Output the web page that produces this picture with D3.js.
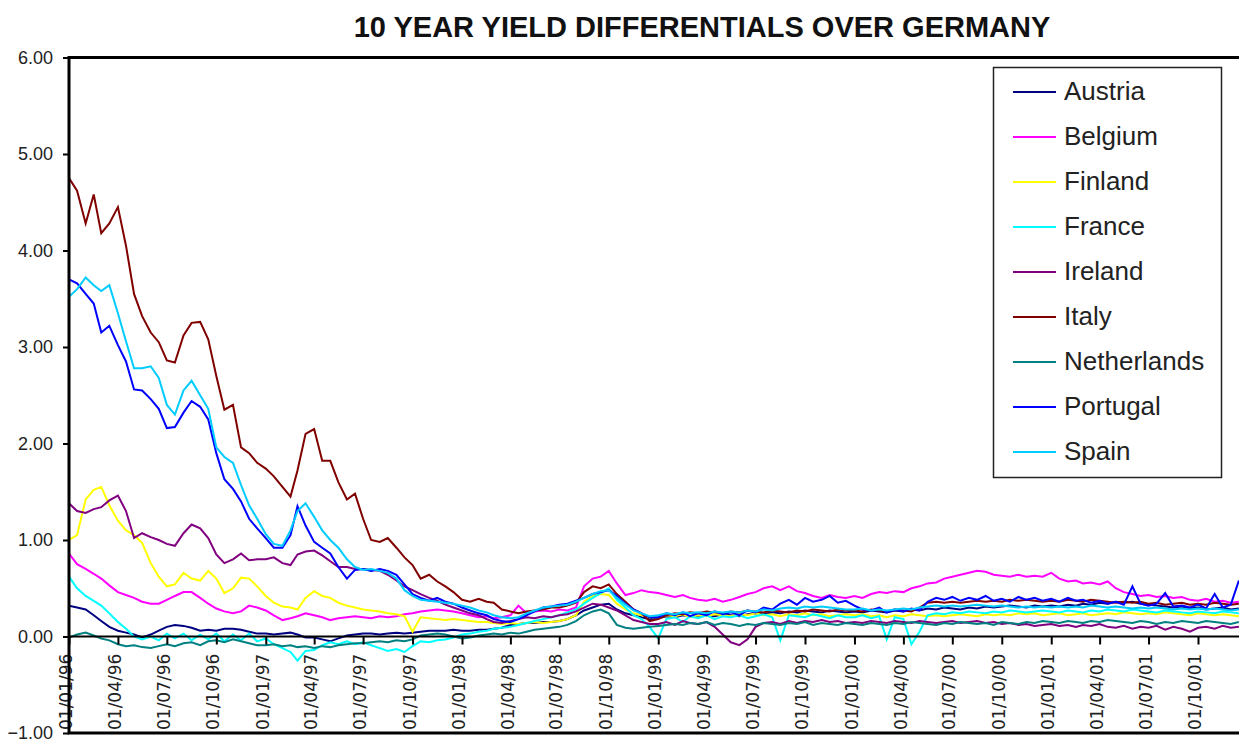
<!DOCTYPE html>
<html>
<head>
<meta charset="utf-8">
<script src="https://cdn.jsdelivr.net/npm/d3@7"></script>
<style>
  body { margin: 0; background: #fff; }
  svg { display: block; }
</style>
</head>
<body>
<div id="chart"></div>
<script>
// series names and Excel-style default colours
const countries = ["Austria", "Belgium", "Finland", "France", "Ireland", "Italy", "Netherlands", "Portugal", "Spain"];
const colors = ["#000080", "#ff00ff", "#ffff00", "#00ffff", "#800080", "#800000", "#008080", "#0000ff", "#00ccff"];

const yTicks = [-1, 0, 1, 2, 3, 4, 5, 6];
const xTickLabels = [
  "01/01/96", "01/04/96", "01/07/96", "01/10/96",
  "01/01/97", "01/04/97", "01/07/97", "01/10/97",
  "01/01/98", "01/04/98", "01/07/98", "01/10/98",
  "01/01/99", "01/04/99", "01/07/99", "01/10/99",
  "01/01/00", "01/04/00", "01/07/00", "01/10/00",
  "01/01/01", "01/04/01", "01/07/01", "01/10/01"
];

// spreads, twice a month (1st and 16th), Jan 1996 - Dec 2001, one row per year
const austria = [
  0.32, 0.30, 0.28, 0.22, 0.16, 0.10, 0.06, 0.04, 0.02, -0.01, 0.02, 0.06, 0.10, 0.12, 0.11, 0.09, 0.06, 0.07, 0.06, 0.08, 0.08, 0.07, 0.05, 0.03,
  0.03, 0.02, 0.03, 0.04, 0.02, -0.01, -0.01, -0.03, -0.05, -0.02, 0.01, 0.02, 0.03, 0.03, 0.02, 0.03, 0.04, 0.03, 0.04, 0.05, 0.06, 0.06, 0.06, 0.07,
  0.06, 0.06, 0.07, 0.07, 0.08, 0.09, 0.12, 0.13, 0.14, 0.14, 0.15, 0.15, 0.16, 0.18, 0.22, 0.27, 0.30, 0.33, 0.34, 0.28, 0.24, 0.22, 0.20, 0.18,
  0.19, 0.21, 0.20, 0.22, 0.21, 0.20, 0.22, 0.21, 0.23, 0.22, 0.21, 0.23, 0.24, 0.23, 0.25, 0.24, 0.26, 0.25, 0.27, 0.26, 0.25, 0.27, 0.26, 0.25,
  0.26, 0.25, 0.27, 0.26, 0.25, 0.27, 0.26, 0.28, 0.27, 0.29, 0.28, 0.30, 0.29, 0.28, 0.30, 0.29, 0.31, 0.30, 0.31, 0.32, 0.31, 0.30, 0.32, 0.31,
  0.32, 0.31, 0.33, 0.32, 0.34, 0.33, 0.35, 0.34, 0.36, 0.35, 0.36, 0.34, 0.33, 0.32, 0.31, 0.30, 0.31, 0.29, 0.30, 0.28, 0.29, 0.30, 0.28, 0.29
];
const belgium = [
  0.86, 0.75, 0.70, 0.65, 0.60, 0.53, 0.46, 0.43, 0.40, 0.36, 0.34, 0.34, 0.38, 0.42, 0.46, 0.46, 0.40, 0.34, 0.29, 0.26, 0.24, 0.26, 0.32, 0.30,
  0.27, 0.22, 0.17, 0.19, 0.21, 0.24, 0.22, 0.20, 0.17, 0.19, 0.20, 0.21, 0.20, 0.19, 0.21, 0.20, 0.21, 0.23, 0.24, 0.26, 0.27, 0.28, 0.27, 0.26,
  0.24, 0.22, 0.20, 0.21, 0.19, 0.20, 0.22, 0.32, 0.24, 0.26, 0.27, 0.26, 0.28, 0.27, 0.30, 0.52, 0.60, 0.62, 0.68, 0.55, 0.43, 0.45, 0.48, 0.46,
  0.45, 0.43, 0.41, 0.43, 0.40, 0.38, 0.37, 0.39, 0.36, 0.38, 0.41, 0.44, 0.46, 0.50, 0.52, 0.48, 0.52, 0.47, 0.45, 0.42, 0.40, 0.43, 0.41, 0.40,
  0.42, 0.40, 0.44, 0.46, 0.45, 0.47, 0.46, 0.50, 0.52, 0.55, 0.56, 0.60, 0.62, 0.64, 0.66, 0.68, 0.67, 0.64, 0.63, 0.62, 0.64, 0.62, 0.63, 0.62,
  0.66, 0.60, 0.57, 0.58, 0.55, 0.56, 0.54, 0.57, 0.50, 0.46, 0.44, 0.42, 0.43, 0.41, 0.42, 0.40, 0.41, 0.38, 0.37, 0.39, 0.36, 0.37, 0.35, 0.36
];
const finland = [
  1.00, 1.05, 1.42, 1.52, 1.55, 1.36, 1.20, 1.10, 1.05, 0.97, 0.76, 0.62, 0.52, 0.54, 0.66, 0.60, 0.58, 0.68, 0.60, 0.45, 0.50, 0.61, 0.60, 0.52,
  0.42, 0.35, 0.31, 0.30, 0.28, 0.40, 0.47, 0.42, 0.40, 0.35, 0.32, 0.30, 0.28, 0.27, 0.26, 0.24, 0.23, 0.21, 0.05, 0.20, 0.19, 0.18, 0.17, 0.18,
  0.17, 0.16, 0.15, 0.15, 0.14, 0.13, 0.14, 0.13, 0.14, 0.15, 0.14, 0.15, 0.16, 0.18, 0.22, 0.36, 0.42, 0.44, 0.43, 0.34, 0.28, 0.24, 0.22, 0.20,
  0.20, 0.22, 0.21, 0.23, 0.20, 0.22, 0.21, 0.23, 0.22, 0.21, 0.23, 0.22, 0.24, 0.22, 0.23, 0.21, 0.23, 0.22, 0.24, 0.22, 0.23, 0.21, 0.22, 0.23,
  0.22, 0.23, 0.21, 0.22, 0.20, 0.22, 0.21, 0.23, 0.22, 0.21, 0.22, 0.21, 0.22, 0.23, 0.22, 0.21, 0.23, 0.22, 0.23, 0.22, 0.24, 0.23, 0.24, 0.22,
  0.23, 0.24, 0.22, 0.23, 0.24, 0.22, 0.23, 0.24, 0.23, 0.25, 0.24, 0.23, 0.24, 0.23, 0.25, 0.24, 0.23, 0.22, 0.24, 0.23, 0.22, 0.23, 0.22, 0.21
];
const france = [
  0.62, 0.50, 0.42, 0.37, 0.32, 0.24, 0.15, 0.08, 0.00, -0.03, 0.00, -0.04, 0.03, -0.02, 0.03, -0.04, 0.02, -0.03, 0.03, -0.05, 0.02, -0.04, 0.03, -0.05,
  -0.02, -0.08, -0.12, -0.16, -0.25, -0.15, -0.14, -0.09, -0.06, -0.08, -0.05, -0.08, -0.06, -0.09, -0.12, -0.15, -0.13, -0.16, -0.10, -0.05, -0.06, -0.04, -0.03, -0.01,
  0.02, 0.03, 0.05, 0.06, 0.08, 0.09, 0.10, 0.12, 0.14, 0.16, 0.18, 0.20, 0.22, 0.25, 0.28, 0.34, 0.40, 0.45, 0.50, 0.38, 0.30, 0.22, 0.18, 0.10,
  -0.02, 0.18, 0.20, 0.15, 0.21, 0.19, 0.22, 0.18, 0.21, 0.20, 0.22, 0.19, 0.21, 0.23, 0.20, -0.04, 0.22, 0.21, 0.20, 0.23, 0.21, 0.19, 0.22, 0.20,
  0.20, 0.22, 0.19, 0.21, -0.03, 0.20, 0.18, -0.08, 0.05, 0.22, 0.24, 0.23, 0.25, 0.24, 0.26, 0.25, 0.24, 0.26, 0.25, 0.27, 0.26, 0.25, 0.26, 0.27,
  0.26, 0.25, 0.27, 0.26, 0.25, 0.27, 0.26, 0.28, 0.27, 0.26, 0.28, 0.27, 0.26, 0.25, 0.27, 0.26, 0.25, 0.24, 0.26, 0.25, 0.24, 0.26, 0.25, 0.24
];
const ireland = [
  1.38, 1.30, 1.28, 1.32, 1.34, 1.41, 1.46, 1.30, 1.02, 1.07, 1.03, 1.00, 0.96, 0.94, 1.07, 1.16, 1.12, 1.02, 0.85, 0.76, 0.80, 0.86, 0.79, 0.80,
  0.80, 0.82, 0.76, 0.74, 0.85, 0.88, 0.89, 0.84, 0.78, 0.72, 0.72, 0.70, 0.70, 0.69, 0.68, 0.64, 0.58, 0.52, 0.48, 0.44, 0.40, 0.37, 0.33, 0.30,
  0.27, 0.24, 0.22, 0.18, 0.15, 0.14, 0.16, 0.18, 0.20, 0.19, 0.21, 0.20, 0.22, 0.23, 0.26, 0.30, 0.34, 0.33, 0.30, 0.27, 0.22, 0.17, 0.15, 0.13,
  0.13, 0.15, 0.12, 0.16, 0.14, 0.13, 0.15, 0.10, 0.02, -0.06, -0.09, -0.03, 0.10, 0.14, 0.15, 0.13, 0.16, 0.14, 0.16, 0.15, 0.17, 0.15, 0.16, 0.14,
  0.15, 0.14, 0.16, 0.15, 0.14, 0.16, 0.15, 0.14, 0.16, 0.15, 0.14, 0.15, 0.16, 0.14, 0.15, 0.16, 0.14, 0.15, 0.13, 0.14, 0.12, 0.13, 0.11, 0.12,
  0.13, 0.11, 0.12, 0.10, 0.12, 0.11, 0.13, 0.10, 0.09, 0.11, 0.08, 0.10, 0.09, 0.11, 0.07, 0.10, 0.08, 0.05, 0.09, 0.10, 0.08, 0.11, 0.09, 0.10
];
const italy = [
  4.75, 4.62, 4.28, 4.58, 4.18, 4.28, 4.45, 4.05, 3.55, 3.32, 3.15, 3.05, 2.86, 2.84, 3.12, 3.25, 3.26, 3.08, 2.70, 2.35, 2.40, 1.96, 1.90, 1.80,
  1.74, 1.66, 1.55, 1.45, 1.72, 2.10, 2.15, 1.82, 1.82, 1.60, 1.42, 1.48, 1.22, 1.00, 0.98, 1.02, 0.92, 0.82, 0.74, 0.60, 0.64, 0.57, 0.52, 0.46,
  0.38, 0.36, 0.39, 0.36, 0.35, 0.28, 0.26, 0.24, 0.26, 0.27, 0.28, 0.30, 0.30, 0.32, 0.35, 0.46, 0.52, 0.50, 0.54, 0.44, 0.36, 0.28, 0.24, 0.16,
  0.18, 0.22, 0.24, 0.23, 0.25, 0.24, 0.26, 0.25, 0.24, 0.26, 0.25, 0.27, 0.26, 0.25, 0.27, 0.26, 0.25, 0.27, 0.26, 0.28, 0.27, 0.26, 0.28, 0.27,
  0.27, 0.26, 0.28, 0.27, 0.26, 0.28, 0.27, 0.26, 0.30, 0.35, 0.36, 0.35, 0.36, 0.35, 0.36, 0.37, 0.36, 0.37, 0.36, 0.38, 0.37, 0.38, 0.37, 0.36,
  0.37, 0.36, 0.38, 0.37, 0.36, 0.38, 0.37, 0.36, 0.35, 0.36, 0.35, 0.36, 0.34, 0.35, 0.33, 0.34, 0.35, 0.33, 0.34, 0.33, 0.35, 0.34, 0.33, 0.34
];
const netherlands = [
  -0.01, 0.02, 0.04, 0.01, -0.02, -0.04, -0.08, -0.10, -0.09, -0.11, -0.12, -0.10, -0.08, -0.10, -0.07, -0.06, -0.09, -0.05, -0.04, -0.06, -0.03, -0.05, -0.07, -0.09,
  -0.09, -0.08, -0.10, -0.09, -0.11, -0.10, -0.12, -0.10, -0.11, -0.09, -0.08, -0.07, -0.07, -0.06, -0.05, -0.06, -0.04, -0.05, -0.03, 0.01, 0.02, 0.03, 0.02, 0.00,
  -0.02, -0.01, 0.01, 0.02, 0.03, 0.02, 0.04, 0.03, 0.05, 0.07, 0.08, 0.09, 0.10, 0.12, 0.16, 0.22, 0.26, 0.28, 0.24, 0.12, 0.09, 0.08, 0.09, 0.10,
  0.11, 0.12, 0.13, 0.12, 0.14, 0.13, 0.15, 0.12, 0.14, 0.13, 0.11, 0.13, 0.12, 0.14, 0.13, 0.12, 0.14, 0.13, 0.15, 0.12, 0.14, 0.13, 0.12, 0.14,
  0.13, 0.12, 0.14, 0.13, 0.12, 0.14, 0.13, 0.15, 0.14, 0.13, 0.12, 0.14, 0.13, 0.15, 0.14, 0.13, 0.14, 0.12, 0.15, 0.14, 0.13, 0.15, 0.14, 0.16,
  0.15, 0.14, 0.16, 0.15, 0.14, 0.16, 0.15, 0.17, 0.16, 0.15, 0.14, 0.16, 0.15, 0.13, 0.15, 0.14, 0.16, 0.15, 0.14, 0.16, 0.15, 0.14, 0.13, 0.15
];
const portugal = [
  3.70, 3.66, 3.55, 3.45, 3.15, 3.22, 3.02, 2.85, 2.56, 2.55, 2.46, 2.36, 2.16, 2.17, 2.32, 2.44, 2.38, 2.25, 1.90, 1.63, 1.53, 1.40, 1.22, 1.12,
  1.02, 0.92, 0.92, 1.05, 1.35, 1.15, 0.98, 0.92, 0.86, 0.72, 0.60, 0.69, 0.70, 0.68, 0.70, 0.68, 0.64, 0.54, 0.44, 0.40, 0.37, 0.40, 0.36, 0.34,
  0.30, 0.27, 0.24, 0.22, 0.18, 0.16, 0.15, 0.18, 0.22, 0.26, 0.30, 0.31, 0.33, 0.34, 0.37, 0.40, 0.44, 0.46, 0.48, 0.42, 0.34, 0.28, 0.24, 0.20,
  0.20, 0.24, 0.22, 0.25, 0.21, 0.24, 0.22, 0.26, 0.23, 0.25, 0.22, 0.27, 0.25, 0.30, 0.28, 0.34, 0.38, 0.33, 0.40, 0.36, 0.38, 0.42, 0.35, 0.37,
  0.32, 0.28, 0.27, 0.30, 0.25, 0.28, 0.26, 0.29, 0.27, 0.36, 0.40, 0.38, 0.41, 0.37, 0.40, 0.38, 0.42, 0.37, 0.39, 0.36, 0.41, 0.38, 0.40, 0.37,
  0.39, 0.36, 0.40, 0.37, 0.38, 0.35, 0.37, 0.34, 0.36, 0.33, 0.52, 0.34, 0.32, 0.34, 0.45, 0.31, 0.32, 0.30, 0.33, 0.29, 0.44, 0.30, 0.33, 0.58
];
const spain = [
  3.52, 3.60, 3.72, 3.64, 3.58, 3.64, 3.35, 3.06, 2.78, 2.78, 2.80, 2.68, 2.40, 2.30, 2.55, 2.65, 2.50, 2.36, 1.96, 1.86, 1.80, 1.57, 1.36, 1.22,
  1.06, 0.96, 0.94, 1.10, 1.30, 1.38, 1.24, 1.10, 1.00, 0.92, 0.80, 0.72, 0.69, 0.70, 0.68, 0.66, 0.60, 0.48, 0.42, 0.38, 0.37, 0.36, 0.35, 0.34,
  0.32, 0.30, 0.27, 0.25, 0.22, 0.20, 0.19, 0.20, 0.24, 0.27, 0.30, 0.31, 0.32, 0.33, 0.36, 0.40, 0.44, 0.47, 0.48, 0.40, 0.33, 0.27, 0.24, 0.21,
  0.22, 0.24, 0.23, 0.25, 0.24, 0.25, 0.24, 0.26, 0.25, 0.26, 0.25, 0.27, 0.26, 0.28, 0.27, 0.29, 0.30, 0.29, 0.31, 0.30, 0.31, 0.30, 0.29, 0.28,
  0.28, 0.29, 0.27, 0.28, 0.27, 0.28, 0.29, 0.28, 0.30, 0.31, 0.32, 0.31, 0.32, 0.31, 0.32, 0.33, 0.32, 0.31, 0.32, 0.31, 0.30, 0.31, 0.30, 0.31,
  0.30, 0.31, 0.30, 0.31, 0.30, 0.32, 0.31, 0.30, 0.31, 0.30, 0.29, 0.30, 0.29, 0.30, 0.29, 0.28, 0.29, 0.28, 0.29, 0.28, 0.29, 0.28, 0.27, 0.28
];

const seriesValues = [austria, belgium, finland, france, ireland, italy, netherlands, portugal, spain];

// observation dates: 1st and 16th of every month
const months = d3.timeMonth.range(new Date(1996, 0, 1), new Date(2002, 0, 1));
const dates = months.flatMap(m => [m, d3.timeDay.offset(m, 15)]);

const parseDay = d3.timeParse("%d/%m/%y");

const W = 1239, H = 742;
const plot = { left: 69, top: 57.5, bottom: 733, right: 1239 };

const svg = d3.select("#chart").append("svg")
  .attr("width", W)
  .attr("height", H)
  .style("font-family", "'Liberation Sans', Arial, sans-serif");

const x = d3.scaleTime()
  .domain([parseDay("01/01/96"), parseDay("01/10/01")])
  .range([plot.left, 1198]);

const y = d3.scaleLinear()
  .domain([-1, 6])
  .range([plot.bottom, plot.top]);

// title
svg.append("text")
  .attr("x", 702)
  .attr("y", 37)
  .attr("text-anchor", "middle")
  .style("font-size", "29px")
  .style("font-weight", "bold")
  .style("fill", "#111")
  .text("10 YEAR YIELD DIFFERENTIALS OVER GERMANY");

// clip for the series
svg.append("defs").append("clipPath")
  .attr("id", "plotClip")
  .append("rect")
  .attr("x", plot.left)
  .attr("y", plot.top)
  .attr("width", plot.right - plot.left)
  .attr("height", plot.bottom - plot.top);

const line = d3.line()
  .x(d => x(d.date))
  .y(d => y(d.v));

const series = countries.map((name, k) => ({
  name,
  color: colors[k],
  values: seriesValues[k].map((v, i) => ({ date: dates[i], v }))
}));

svg.append("g")
  .attr("clip-path", "url(#plotClip)")
  .selectAll("path")
  .data(series)
  .enter()
  .append("path")
  .attr("fill", "none")
  .attr("stroke", d => d.color)
  .attr("stroke-width", 2)
  .attr("stroke-linejoin", "miter")
  .attr("d", d => line(d.values));

// y axis on the left edge of the plot
const yAxis = svg.append("g")
  .attr("transform", `translate(${plot.left},0)`)
  .call(d3.axisLeft(y).tickValues(yTicks).tickFormat(d3.format(".2f")).tickSize(6).tickPadding(10));
yAxis.select(".domain").remove();
yAxis.selectAll(".tick line").attr("stroke", "#000").attr("stroke-width", 2);
yAxis.selectAll(".tick text")
  .style("font-size", "18px")
  .style("fill", "#222")
  .attr("font-family", null);

// x axis sits on the zero line, labels hang below it
const xAxis = svg.append("g")
  .attr("transform", `translate(0,${y(0)})`)
  .call(d3.axisBottom(x).tickValues(xTickLabels.map(parseDay)).tickSize(8).tickFormat(""));
xAxis.select(".domain").remove();
xAxis.selectAll(".tick line").attr("stroke", "#000").attr("stroke-width", 2);

svg.append("line")
  .attr("x1", plot.left).attr("x2", plot.right)
  .attr("y1", y(0)).attr("y2", y(0))
  .attr("stroke", "#000").attr("stroke-width", 2);

svg.append("g")
  .selectAll("text")
  .data(xTickLabels)
  .enter()
  .append("text")
  .attr("transform", d => `translate(${x(parseDay(d)) - 3},${plot.bottom - 3}) rotate(-90)`)
  .attr("dy", "0.36em")
  .style("font-family", "'DejaVu Sans', sans-serif")
  .style("font-size", "17px")
  .style("fill", "#222")
  .text(d => d);

// plot frame: top, left, bottom
svg.append("path")
  .attr("d", `M${plot.right},${plot.top}H${plot.left}V${plot.bottom}H${plot.right}`)
  .attr("fill", "none")
  .attr("stroke", "#000")
  .attr("stroke-width", 3);

// legend
const legend = svg.append("g");
legend.append("rect")
  .attr("x", 993.5)
  .attr("y", 67.5)
  .attr("width", 228)
  .attr("height", 410)
  .attr("fill", "#fff")
  .attr("stroke", "#222")
  .attr("stroke-width", 1.5);

const item = legend.selectAll(".item")
  .data(series)
  .enter()
  .append("g")
  .attr("transform", (d, i) => `translate(0,${92 + i * 45})`);

item.append("line")
  .attr("x1", 1013).attr("x2", 1056)
  .attr("stroke", d => d.color)
  .attr("stroke-width", 2);

item.append("text")
  .attr("x", 1064)
  .attr("y", 8)
  .style("font-size", "26px")
  .style("fill", "#222")
  .text(d => d.name);
</script>
</body>
</html>
